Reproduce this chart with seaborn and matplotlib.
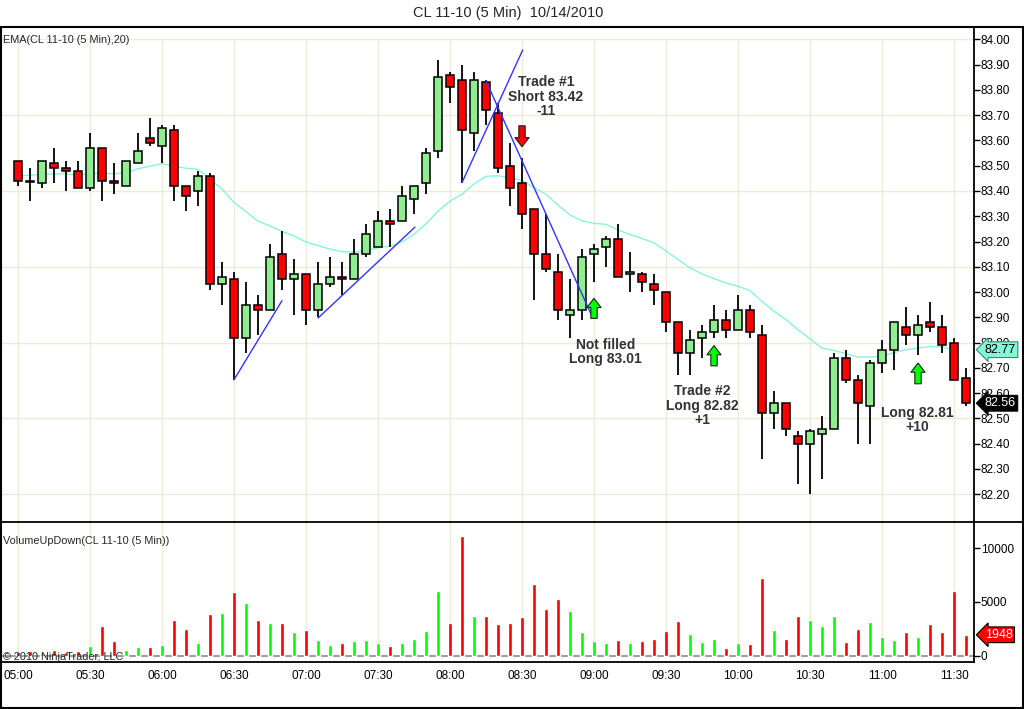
import numpy as np
import pandas as pd
import matplotlib
matplotlib.use("Agg")
import matplotlib.pyplot as plt
import matplotlib.transforms as mtransforms
from matplotlib.lines import Line2D
import seaborn as sns

sns.set_style("white")
plt.rcParams['font.family'] = ['Liberation Sans', 'DejaVu Sans']

# --- 5 minute bars, CL 11-10, 05:00 .. 11:35 ---
opens = [83.52, 83.44, 83.43, 83.51, 83.49, 83.48, 83.41, 83.57, 83.44, 83.42,
         83.51, 83.61, 83.58, 83.64, 83.42, 83.40, 83.46, 83.03, 83.05, 82.82,
         82.95, 82.93, 83.15, 83.05, 83.07, 82.93, 83.03, 83.06, 83.05, 83.15,
         83.18, 83.28, 83.28, 83.37, 83.43, 83.56, 83.86, 83.84, 83.63, 83.83,
         83.71, 83.50, 83.43, 83.33, 83.15, 83.08, 82.91, 82.93, 83.15, 83.18,
         83.21, 83.07, 83.07, 83.03, 83.00, 82.88, 82.76, 82.82, 82.84, 82.89,
         82.85, 82.93, 82.83, 82.52, 82.56, 82.43, 82.40, 82.44, 82.46, 82.74,
         82.65, 82.55, 82.72, 82.77, 82.86, 82.83, 82.88, 82.86, 82.80, 82.66]
highs = [83.52, 83.49, 83.52, 83.57, 83.52, 83.52, 83.63, 83.57, 83.51, 83.52,
         83.63, 83.69, 83.66, 83.66, 83.42, 83.48, 83.47, 83.12, 83.08, 83.04,
         82.99, 83.19, 83.24, 83.13, 83.07, 83.12, 83.14, 83.12, 83.21, 83.27,
         83.32, 83.33, 83.42, 83.42, 83.57, 83.92, 83.87, 83.90, 83.87, 83.84,
         83.75, 83.59, 83.53, 83.33, 83.31, 83.15, 83.05, 83.17, 83.19, 83.22,
         83.27, 83.16, 83.08, 83.07, 83.00, 82.88, 82.85, 82.87, 82.95, 82.93,
         82.99, 82.95, 82.87, 82.61, 82.56, 82.45, 82.46, 82.51, 82.76, 82.77,
         82.67, 82.73, 82.81, 82.88, 82.94, 82.91, 82.96, 82.91, 82.82, 82.70]
lows = [83.42, 83.36, 83.41, 83.43, 83.40, 83.41, 83.40, 83.36, 83.39, 83.42,
        83.51, 83.58, 83.51, 83.36, 83.32, 83.34, 83.01, 82.95, 82.65, 82.76,
        82.83, 82.93, 83.01, 82.91, 82.87, 82.90, 83.02, 82.99, 83.05, 83.14,
        83.18, 83.18, 83.28, 83.31, 83.39, 83.53, 83.75, 83.43, 83.56, 83.66,
        83.47, 83.34, 83.25, 82.97, 83.08, 82.89, 82.82, 82.89, 83.04, 83.10,
        83.06, 83.00, 83.00, 82.95, 82.84, 82.67, 82.67, 82.74, 82.82, 82.82,
        82.85, 82.82, 82.34, 82.46, 82.43, 82.24, 82.20, 82.26, 82.46, 82.64,
        82.40, 82.40, 82.68, 82.69, 82.79, 82.75, 82.84, 82.76, 82.65, 82.55]
closes = [83.44, 83.435, 83.52, 83.49, 83.48, 83.41, 83.57, 83.44, 83.43, 83.52,
          83.56, 83.59, 83.65, 83.42, 83.38, 83.46, 83.03, 83.06, 82.82, 82.95,
          82.93, 83.14, 83.05, 83.07, 82.93, 83.03, 83.06, 83.05, 83.15, 83.23,
          83.28, 83.27, 83.38, 83.42, 83.55, 83.85, 83.81, 83.64, 83.84, 83.72,
          83.49, 83.41, 83.31, 83.15, 83.09, 82.93, 82.93, 83.14, 83.17, 83.21,
          83.06, 83.08, 83.04, 83.01, 82.88, 82.76, 82.81, 82.84, 82.89, 82.85,
          82.93, 82.84, 82.52, 82.56, 82.46, 82.40, 82.45, 82.46, 82.74, 82.65,
          82.56, 82.72, 82.77, 82.88, 82.83, 82.87, 82.86, 82.79, 82.65, 82.56]
volumes = [375, 470, 250, 560, 375, 470, 935, 2800, 1400, 560,
           840, 840, 1030, 3280, 2530, 1220, 3840, 3930, 5900, 4870,
           3280, 3090, 3090, 2250, 2430, 1500, 1030, 1220, 1400, 1500,
           1220, 935, 1220, 1590, 2340, 5990, 3000, 11140, 3650, 3700,
           2950, 3060, 3620, 6720, 4375, 5310, 4190, 2220, 1375, 1190,
           1470, 1190, 1375, 1560, 2310, 3250, 2030, 1280, 1560, 720,
           1190, 1090, 7190, 2400, 1560, 3720, 3340, 2780, 3720, 1280,
           2500, 3160, 1750, 1470, 2220, 1750, 2970, 2220, 6060, 1948]
# EMA(20) as plotted (last, unfinished bar has no value)
ema20 = [83.462, 83.462, 83.466, 83.468, 83.468, 83.462, 83.470, 83.470, 83.468, 83.472,
         83.488, 83.498, 83.508, 83.498, 83.490, 83.486, 83.446, 83.408, 83.355, 83.318,
         83.280, 83.262, 83.240, 83.222, 83.198, 83.184, 83.170, 83.160, 83.158, 83.164,
         83.175, 83.182, 83.198, 83.228, 83.270, 83.320, 83.360, 83.387, 83.428, 83.458,
         83.460, 83.453, 83.442, 83.413, 83.387, 83.344, 83.305, 83.282, 83.272, 83.268,
         83.246, 83.228, 83.212, 83.195, 83.162, 83.129, 83.096, 83.072, 83.053, 83.036,
         83.023, 83.006, 82.963, 82.924, 82.891, 82.851, 82.815, 82.778, 82.769, 82.756,
         82.743, 82.743, 82.745, 82.761, 82.772, 82.778, 82.785, 82.782, 82.772]

time_labels = ["05:00", "05:30", "06:00", "06:30", "07:00", "07:30", "08:00",
               "08:30", "09:00", "09:30", "10:00", "10:30", "11:00", "11:30"]
price_ticks = [82.2, 82.3, 82.4, 82.5, 82.6, 82.7, 82.8, 82.9,
               83.0, 83.1, 83.2, 83.3, 83.4, 83.5, 83.6, 83.7, 83.8, 83.9, 84.0]
price_grid = [82.2, 82.5, 82.8, 83.1, 83.4, 83.7, 84.0]
volume_ticks = [0, 5000, 10000]

# hand drawn trend lines: (bar, price) -> (bar, price)
trend_lines = [(18, 82.653, 22, 82.966), (25, 82.897, 33.08, 83.257),
               (37, 83.433, 42.06, 83.958), (39, 83.836, 47.9, 82.897)]
# trade arrows: bar, tail price, tip price, colour
arrow_bars = [42, 48, 58, 75]
arrow_tail = [83.658, 82.896, 82.708, 82.637]
arrow_tip = [83.575, 82.975, 82.788, 82.719]
arrow_colors = ['#FF0000', '#00FF00', '#00FF00', '#00FF00']
# trade notes
note_bars = [44, 48.97, 57.03, 74.97]
note_prices = [83.773, 82.762, 82.551, 82.493]
note_texts = ["Trade #1\nShort 83.42\n-11", "Not filled\nLong 83.01",
              "Trade #2\nLong 82.82\n+1", "Long 82.81\n+10"]

df = pd.DataFrame({'open': opens, 'high': highs, 'low': lows,
                   'close': closes, 'volume': volumes})
df['bar'] = np.arange(len(df))
up = df['close'] >= df['open']

W, H = 1024, 709
fig = plt.figure(figsize=(W / 100, H / 100), dpi=100)


def px_box(left, top, right, bottom):
    return [left / W, 1 - bottom / H, (right - left) / W, (bottom - top) / H]


ax = fig.add_axes(px_box(1, 27, 974, 522))
axv = fig.add_axes(px_box(1, 522, 974, 662), sharex=ax)

x_lo, x_hi = (1 - 18) / 12, (974 - 18) / 12
y_lo, y_hi = 82.090, 84.049
grid_col = '#EEEBD6'
tick_bars = [6 * i for i in range(len(time_labels))]

# grid
ax.hlines(price_grid, x_lo, x_hi, color=grid_col, lw=1, zorder=0)
ax.vlines(tick_bars, y_lo, 84.0, color=grid_col, lw=1, zorder=0)

# EMA
sns.lineplot(x=df['bar'][:len(ema20)], y=ema20, ax=ax, color='#86F5D6', lw=1.0, zorder=1)

# candles
ax.vlines(df['bar'], df['low'], df['high'], color='black', lw=1.3, zorder=2)
ax.bar(df['bar'], (df['close'] - df['open']).abs(), bottom=np.minimum(df['open'], df['close']),
       width=0.7, color=np.where(up, '#90EE90', '#FF0000'), edgecolor='black',
       linewidth=1.1, zorder=3)

# trend lines
for b0, p0, b1, p1 in trend_lines:
    ax.plot([b0, b1], [p0, p1], color='#3333FF', lw=1, zorder=4)

# arrows
for b, p0, p1, c in zip(arrow_bars, arrow_tail, arrow_tip, arrow_colors):
    ax.annotate('', xy=(b, p1), xytext=(b, p0),
                arrowprops=dict(arrowstyle='simple,head_length=0.55,head_width=0.85,tail_width=0.38',
                                fc=c, ec='#202020', lw=0.8, shrinkA=0, shrinkB=0,
                                mutation_scale=12), zorder=5)

for b, p, t in zip(note_bars, note_prices, note_texts):
    ax.text(b, p, t, ha='center', va='center', fontsize=10, fontweight='bold',
            color='#333333', linespacing=1.05, zorder=6)

ax.set_xlim(x_lo, x_hi)
ax.set_ylim(y_lo, y_hi)
ax.set_xlabel('')
ax.set_ylabel('')
ax.yaxis.tick_right()
ax.set_yticks(price_ticks)
ax.set_yticklabels([f'{v:.2f}' for v in price_ticks])
ax.tick_params(axis='y', direction='out', length=4, width=1, pad=1, labelsize=8.5,
               colors='black', right=True, left=False)
ax.tick_params(axis='x', bottom=False, labelbottom=False)
for s in ['top', 'left', 'bottom']:
    ax.spines[s].set_visible(False)
ax.spines['right'].set_color('black')
ax.spines['right'].set_linewidth(1.3)

# right side value tags
tr = mtransforms.blended_transform_factory(ax.transAxes, ax.transData)
ax.text(1.011, ema20[-1], f'{ema20[-1]:.2f}', transform=tr, ha='left', va='center',
        fontsize=9, color='black', zorder=10, clip_on=False,
        bbox=dict(boxstyle='larrow,pad=0.15', fc='#86F5D6', ec='#2E8B7A', lw=0.8))
ax.text(1.011, closes[-1], f'{closes[-1]:.2f}', transform=tr, ha='left', va='center',
        fontsize=9, color='white', zorder=10, clip_on=False,
        bbox=dict(boxstyle='larrow,pad=0.15', fc='black', ec='black', lw=0.8))

# volume panel
axv.vlines(tick_bars, 0, 12449, color=grid_col, lw=1, zorder=0)
axv.axhline(0, color='#A0A0A0', lw=1.5, zorder=1)
axv.bar(df['bar'], df['volume'], width=0.26, color=np.where(up, '#00FF00', '#FF0000'), zorder=2)
axv.set_ylim(-587, 12449)
axv.yaxis.tick_right()
axv.set_yticks(volume_ticks)
axv.set_yticklabels([str(v) for v in volume_ticks])
axv.set_xticks(tick_bars)
axv.set_xticklabels(time_labels)
axv.tick_params(axis='both', direction='out', length=4, width=1, pad=2, labelsize=8.5,
                colors='black')
axv.tick_params(axis='y', left=False, right=True, pad=1)
for s in ['top', 'left']:
    axv.spines[s].set_visible(False)
for s in ['right', 'bottom']:
    axv.spines[s].set_color('black')
    axv.spines[s].set_linewidth(1.3)
trv = mtransforms.blended_transform_factory(axv.transAxes, axv.transData)
axv.text(1.011, volumes[-1], str(volumes[-1]), transform=trv, ha='left', va='center',
         fontsize=9, color='white', zorder=10, clip_on=False,
         bbox=dict(boxstyle='larrow,pad=0.15', fc='#FF0000', ec='black', lw=0.8))

# frame and separators
fy = lambda y: 1 - y / H
fig.add_artist(Line2D([0, 1], [fy(27), fy(27)], transform=fig.transFigure, color='black', lw=1.5))
fig.add_artist(Line2D([0, 1], [fy(522), fy(522)], transform=fig.transFigure, color='black', lw=1.3))
fig.add_artist(Line2D([0, 1], [fy(707.5), fy(707.5)], transform=fig.transFigure, color='black', lw=1.5))
fig.add_artist(Line2D([0.6 / W, 0.6 / W], [fy(27), fy(708)], transform=fig.transFigure, color='black', lw=1.5))
fig.add_artist(Line2D([1022.5 / W, 1022.5 / W], [fy(27), fy(708)], transform=fig.transFigure, color='black', lw=1.5))

# texts
fig.text(508 / W, fy(13), 'CL 11-10 (5 Min)  10/14/2010', ha='center', va='center', fontsize=10.5)
fig.text(3 / W, fy(40), 'EMA(CL 11-10 (5 Min),20)', ha='left', va='center', fontsize=7.8)
fig.text(3 / W, fy(541), 'VolumeUpDown(CL 11-10 (5 Min))', ha='left', va='center', fontsize=7.8)
fig.text(3 / W, fy(657), '\u00a9 2010 NinjaTrader, LLC', ha='left', va='center', fontsize=7.8)

fig.savefig('out.png', dpi=100)
